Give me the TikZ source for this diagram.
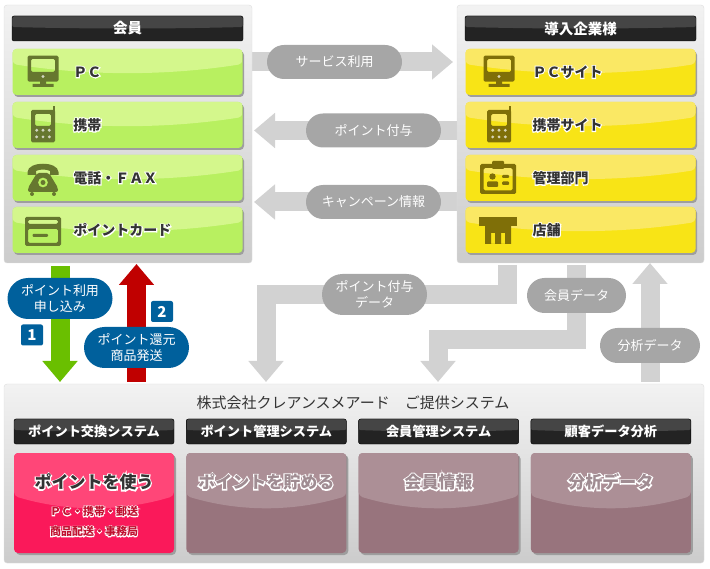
\documentclass[tikz,border=0pt]{standalone}
\usepackage{fontspec}
\setmainfont{Noto Sans CJK JP}
\newfontface\halofont[FakeBold=16]{Noto Sans CJK JP Bold}
\usetikzlibrary{arrows.meta, positioning, calc, shapes.misc, shadows, backgrounds}

\definecolor{row_green}{HTML}{B8F060}
\definecolor{row_green_top}{HTML}{D4F78C}
\definecolor{row_yellow}{HTML}{F8E416}
\definecolor{row_yellow_top}{HTML}{FAE864}
\definecolor{icon_green}{HTML}{66772F}
\definecolor{icon_yellow}{HTML}{7F6F08}
\definecolor{bar_dark}{HTML}{232323}
\definecolor{bar_light}{HTML}{454545}
\definecolor{pill_gray}{HTML}{A6A6A6}
\definecolor{pill_blue}{HTML}{00609C}
\definecolor{flow_gray}{HTML}{D2D2D2}
\definecolor{flow_green}{HTML}{6ABF00}
\definecolor{flow_red}{HTML}{C00000}
\definecolor{card_mauve}{HTML}{98747D}
\definecolor{card_mauve_top}{HTML}{AC8F96}
\definecolor{card_pink}{HTML}{FA195A}
\definecolor{card_pink_top}{HTML}{FF4678}
\definecolor{text_dark}{HTML}{333333}
\definecolor{text_mauve}{HTML}{A08C92}
\definecolor{text_red}{HTML}{C01030}

% Testo con alone bianco
\newcommand{\halotext}[2]{\leavevmode\raisebox{-1pt}{\rlap{\color{white}\halofont #2}{\color{#1}\bfseries #2}}}

\tikzset{gloss/.style n args={3}{path picture={
  \coordinate (gl) at (path picture bounding box.north west);
  \coordinate (gr) at (path picture bounding box.north east);
  \fill[#1] (gl) -- ($(gl)+(0,#2)$) .. controls ($(gl)!.33!(gr)+(0,#3)$) and ($(gl)!.67!(gr)+(0,#3)$) .. ($(gr)+(0,#2)$) -- (gr) -- cycle;
}}}

\tikzstyle{panel} = [rectangle, rounded corners=3pt, draw=black!13, top color=black!5, bottom color=black!20, outer sep=0pt]
\tikzstyle{title_bar} = [rectangle, rounded corners=2pt, minimum width=231pt, minimum height=25pt, inner sep=0pt, outer sep=0pt, draw=black, fill=bar_dark, gloss={bar_light}{11}{13}, text=white, font=\fontsize{14.5}{16}\selectfont\bfseries]
\tikzstyle{system_bar} = [title_bar, minimum width=160pt, font=\fontsize{13.2}{16}\selectfont\bfseries]
\tikzstyle{row_base} = [rectangle, rounded corners=4pt, minimum height=46pt, text width=230pt, align=left, inner xsep=0pt, inner ysep=0pt, outer sep=0pt, general shadow={fill=black!38, shadow xshift=1.5pt, shadow yshift=-2pt}, font=\fontsize{14}{16}\selectfont, execute at begin node={\hspace*{61pt}}]
\tikzstyle{member_row} = [row_base, fill=row_green, gloss={row_green_top}{15}{27}]
\tikzstyle{company_row} = [row_base, fill=row_yellow, gloss={row_yellow_top}{15}{27}, execute at begin node={\hspace*{6pt}}]
\tikzstyle{card_base} = [rectangle, rounded corners=4pt, minimum width=160pt, minimum height=100pt, inner sep=0pt, outer sep=0pt, general shadow={fill=black!38, shadow xshift=2pt, shadow yshift=-2pt}]
\tikzstyle{mauve_card} = [card_base, fill=card_mauve, gloss={card_mauve_top}{43}{59}]
\tikzstyle{pink_card} = [card_base, fill=card_pink, gloss={card_pink_top}{43}{59}]
\tikzstyle{card_title} = [inner sep=0pt, font=\fontsize{17}{20}\selectfont]
\tikzstyle{pill} = [rounded rectangle, inner sep=0pt, outer sep=0pt, align=center, text=white, font=\fontsize{13}{16}\selectfont]
\tikzstyle{gray_pill} = [pill, fill=pill_gray, minimum height=34pt]
\tikzstyle{blue_pill} = [pill, fill=pill_blue, minimum width=105pt, minimum height=41pt]
\tikzstyle{step_badge} = [rectangle, rounded corners=2pt, minimum width=22pt, minimum height=21pt, inner sep=0pt, fill=pill_blue, text=white, font=\fontsize{15}{16}\selectfont\bfseries]
\tikzstyle{gray_flow} = [line width=19pt, draw=flow_gray, -{Triangle[length=21pt,width=34pt]}]
\tikzstyle{green_flow} = [gray_flow, draw=flow_green]
\tikzstyle{red_flow} = [gray_flow, draw=flow_red]

% Icone
\tikzset{
  pics/monitor_icon/.style={code={
    \fill[#1, even odd rule, rounded corners=1.5pt] (-15.5,-16.3) rectangle (15.5,9.7) (-12,-13) rectangle (12,0);
    \fill[#1] (-3,9) rectangle (3,13) (-10.5,12) rectangle (10.5,15);
    \fill[white!70!#1] (0,4.5) circle (1.6);
  }},
  pics/mobile_icon/.style={code={
    \fill[#1, even odd rule, rounded corners=1.5pt] (-12,-15) rectangle (12,17.5) (-8,-11) rectangle (8,1);
    \fill[#1] (10,-18.5) rectangle (12,-13);
    \foreach \dotx in {-6.3,0,6.3} \foreach \doty in {5.3,11.9} \fill[white!70!#1] (\dotx,\doty) circle (1.6);
  }},
  pics/telephone_icon/.style={code={
    \fill[#1] (-15.5,-6) .. controls (-15,-17) and (15,-17) .. (15.5,-6) -- (15.5,-3) -- (7,-3) -- (7,-7) .. controls (3,-9) and (-3,-9) .. (-7,-7) -- (-7,-3) -- (-15.5,-3) -- cycle;
    \fill[#1, even odd rule, rounded corners=2pt] (-6,-5) -- (6,-5) -- (15,10) -- (15,14) -- (-15,14) -- (-15,10) -- cycle (0,4.5) circle (5);
    \fill[#1] (0,4.5) circle (2.5) (-11,16) circle (2) (11,16) circle (2);
  }},
  pics/card_icon/.style={code={
    \fill[#1, even odd rule, rounded corners=1.5pt] (-18,-13) rectangle (18,16) (-15,-10) rectangle (15,-6) (-15,-1) rectangle (15,13);
    \fill[#1, rounded corners=1pt] (-10.5,4) rectangle (5,7);
  }},
  pics/badge_icon/.style={code={
    \fill[#1, even odd rule, rounded corners=1.5pt] (-18,-14) rectangle (18,16) (-14.5,-10) rectangle (14.5,12.5);
    \fill[#1, rounded corners=1pt] (-6,-17) rectangle (6,-9);
    \fill[#1] (-5.5,-1.5) circle (3.2);
    \fill[#1, rounded corners=1pt] (-11,9) rectangle (0,3.5);
    \fill[#1, rounded corners=1pt] (4,-3) rectangle (11,0) (4,3.5) rectangle (11,7);
  }},
  pics/shop_icon/.style={code={
    \fill[#1] (-19,-13) rectangle (19,-4);
    \fill[#1, even odd rule] (-13,-4) rectangle (13,14) (-7,3) rectangle (-3,14) (3,3) rectangle (7,14);
  }}
}

\begin{document}
\begin{tikzpicture}[x=1pt, y=-1pt]
\useasboundingbox (0,0) rectangle (710,569);

% Pannello dei membri
\node (member_panel) [panel, minimum width=248pt, minimum height=258pt] at (128,134) {};
\node (member_title) [title_bar] at (127.5,28.5) {会員};
\node (member_pc) [member_row, below=8pt of member_title] {\halotext{text_dark}{ＰＣ}};
\node (member_mobile) [member_row, below=7pt of member_pc] {\halotext{text_dark}{携帯}};
\node (member_phone) [member_row, below=7pt of member_mobile] {\halotext{text_dark}{電話・ＦＡＸ}};
\node (member_card) [member_row, below=6pt of member_phone] {\halotext{text_dark}{ポイントカード}};
\pic at ([xshift=30.5pt]member_pc.west) {monitor_icon=icon_green};
\pic at ([xshift=30.5pt]member_mobile.west) {mobile_icon=icon_green};
\pic at ([xshift=30.5pt]member_phone.west) {telephone_icon=icon_green};
\pic at ([xshift=30.5pt]member_card.west) {card_icon=icon_green};

% Pannello delle aziende
\node (company_panel) [panel, minimum width=247pt, minimum height=258pt] at (580.5,134) {};
\node (company_title) [title_bar] at (580.5,28.5) {導入企業様};
\node (company_pc) [company_row, below=8pt of company_title] {\halotext{text_dark}{ＰＣサイト}};
\node (company_mobile) [company_row, below=7pt of company_pc] {\halotext{text_dark}{携帯サイト}};
\node (company_admin) [company_row, below=7pt of company_mobile] {\halotext{text_dark}{管理部門}};
\node (company_shop) [company_row, below=6pt of company_admin] {\halotext{text_dark}{店舗}};
\pic at ([xshift=33.5pt]company_pc.west) {monitor_icon=icon_yellow};
\pic at ([xshift=33.5pt]company_mobile.west) {mobile_icon=icon_yellow};
\pic at ([xshift=32.5pt]company_admin.west) {badge_icon=icon_yellow};
\pic at ([xshift=32.5pt]company_shop.west) {shop_icon=icon_yellow};

% Pannello del sistema
\node (system_panel) [panel, minimum width=700pt, minimum height=179pt] at (354,473.5) {};
\node (system_label) [inner sep=0pt, text=text_dark, font=\fontsize{15}{16}\selectfont] at (353,403) {株式会社クレアンスメアード　ご提供システム};
\node (exchange_bar) [system_bar] at (94,431.5) {ポイント交換システム};
\node (manage_bar) [system_bar, right=12.3pt of exchange_bar] {ポイント管理システム};
\node (member_bar) [system_bar, right=12.3pt of manage_bar] {会員管理システム};
\node (analysis_bar) [system_bar, right=12.3pt of member_bar] {顧客データ分析};
\node (exchange_card) [pink_card, below=9pt of exchange_bar] {};
\node (manage_card) [mauve_card, below=9pt of manage_bar] {};
\node (member_card_info) [mauve_card, below=9pt of member_bar] {};
\node (analysis_card) [mauve_card, below=9pt of analysis_bar] {};
\node (use_points) [card_title] at ([yshift=-29pt]exchange_card.north) {\halotext{text_dark}{ポイントを使う}};
\node (use_detail) [inner sep=0pt, align=center, font=\fontsize{11}{20}\selectfont, below=15.5pt of use_points] {\halotext{text_red}{ＰＣ・携帯・郵送}\\\halotext{text_red}{商品配送・事務局}};
\node (save_points) [card_title] at ([yshift=-29pt]manage_card.north) {\halotext{text_mauve}{ポイントを貯める}};
\node (member_info) [card_title] at ([yshift=-29pt]member_card_info.north) {\halotext{text_mauve}{会員情報}};
\node (analysis_info) [card_title] at ([yshift=-29pt]analysis_card.north) {\halotext{text_mauve}{分析データ}};

% Etichette delle frecce
\node (service_use) [gray_pill, minimum width=135pt] at (334.5,62) {サービス利用};
\node (point_grant) [gray_pill, minimum width=135pt] at (373.5,130.5) {ポイント付与};
\node (campaign_info) [gray_pill, minimum width=135pt] at (373.5,202) {キャンペーン情報};
\node (point_apply) [blue_pill] at (60,298.5) {ポイント利用\\申し込み};
\node (point_return) [blue_pill] at (136.5,347.5) {ポイント還元\\商品発送};
\node (step_one) [step_badge] at (32,335) {1};
\node (step_two) [step_badge] at (162,311.5) {2};
\node (grant_data) [gray_pill, minimum width=105pt, minimum height=41pt] at (374.5,294.5) {ポイント付与\\データ};
\node (member_data) [gray_pill, minimum width=99pt, minimum height=35pt] at (576.5,295.5) {会員データ};
\node (analysis_data) [gray_pill, minimum width=100pt, minimum height=35pt] at (650,345.5) {分析データ};
\coordinate (member_bend) at (500,340);

% Connessione tra i nodi
\begin{scope}[on background layer]
\draw [gray_flow, shorten >=4pt] (member_panel.east |- service_use) -- (company_panel.west |- service_use);
\draw [gray_flow, shorten >=2pt] (company_panel.west |- point_grant) -- (member_panel.east |- point_grant);
\draw [gray_flow, shorten >=2pt] (company_panel.west |- campaign_info) -- (member_panel.east |- campaign_info);
\draw [green_flow, shorten <=3pt, shorten >=2pt] (member_panel.south -| point_apply) -- (system_panel.north -| point_apply);
\draw [red_flow, shorten >=1pt, shorten <=2pt] (system_panel.north -| point_return) -- (member_panel.south -| point_return);
\draw [gray_flow, shorten <=2pt, shorten >=2pt] ([xshift=-73.5pt]company_panel.south) |- (grant_data.center) -| ([xshift=-88pt]system_panel.north);
\draw [gray_flow, shorten <=2pt, shorten >=2pt] ([xshift=-4pt]company_panel.south) |- (member_bend) -| ([xshift=84pt]system_panel.north);
\draw [gray_flow, shorten <=2pt] ([xshift=296pt]system_panel.north) -- ([xshift=69.5pt]company_panel.south);
\end{scope}

\end{tikzpicture}
\end{document}
